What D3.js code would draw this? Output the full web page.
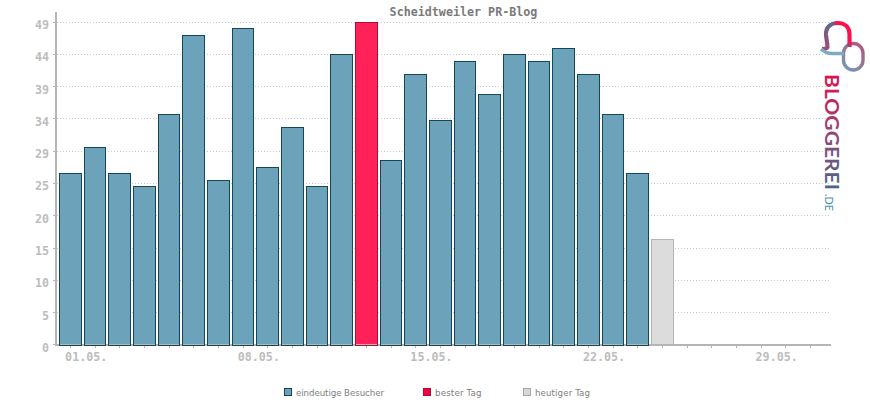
<!DOCTYPE html>
<style>
  html, body { margin: 0; padding: 0; background: #fff; }
  svg { display: block; }
</style>
<svg width="870" height="400"></svg>
<script src="https://d3js.org/d3.v7.min.js"></script>
<script>

var svg = d3.select("svg"),
    mono = "'DejaVu Sans Mono', 'Liberation Mono', monospace";

// eindeutige Besucher per day of May, last entry is today
var values = [26, 30, 26, 24, 35, 47, 25, 48, 27, 33, 24, 44, 49, 28, 41, 34, 43, 38, 44, 43, 45, 41, 35, 26, 16],
    best = 49,
    today = values.length - 1;

var x = d3.scaleLinear().domain([0, 30]).range([70.6, 810.4]),
    y = d3.scaleLinear().domain([0, 49]).range([344.95, 22.04]);

var yTicks = d3.range(11).map(function(i) { return i * 4.9; }),
    xTicks = d3.range(31);

var style = {
  normal: {fill: "#6ca2ba", stroke: "#14475a"},
  best: {fill: "#ff2158", stroke: "#a90f3b"},
  today: {fill: "#dcdcdc", stroke: "#b5b5b5"}
};

function barStyle(d, i) {
  if (i == today) return style.today;
  if (d == best) return style.best;
  return style.normal;
}

// the original is a pixel image, so snap bar edges to whole pixels
function barLeft(i) { return Math.round(x(i) - 11.5); }
function barRight(i) { return Math.floor(x(i) + 10.6); }
function barTop(d) { return Math.floor(y(d)); }

// title
svg.append("text")
    .attr("x", 463.5)
    .attr("y", 16)
    .attr("text-anchor", "middle")
    .attr("font-family", mono)
    .attr("font-size", 11.7)
    .attr("font-weight", "bold")
    .attr("fill", "#7a7a7a")
    .text("Scheidtweiler PR-Blog");

// grid
svg.append("g")
    .attr("stroke", "#c8c8c8")
    .attr("stroke-dasharray", "1,2")
  .selectAll("line")
  .data(yTicks.slice(1))
  .enter().append("line")
    .attr("x1", 57)
    .attr("x2", 830)
    .attr("y1", function(d) { return Math.floor(y(d)) + 0.5; })
    .attr("y2", function(d) { return Math.floor(y(d)) + 0.5; });

// bar fills, the axis runs over them and the outline over the axis
svg.append("g").selectAll("rect")
  .data(values)
  .enter().append("rect")
    .attr("x", function(d, i) { return barLeft(i) + 0.5; })
    .attr("y", function(d) { return barTop(d) + 0.5; })
    .attr("width", function(d, i) { return barRight(i) - barLeft(i); })
    .attr("height", function(d) { return 345 - barTop(d); })
    .attr("fill", function(d, i) { return barStyle(d, i).fill; });

// axes
var yAxis = svg.append("g")
    .attr("transform", "translate(56,0)")
    .call(d3.axisLeft(y).tickValues(yTicks).tickSize(3).tickPadding(4).offset(0)
      .tickFormat(function(d) { return Math.round(d); }));

var xAxis = svg.append("g")
    .attr("transform", "translate(0,345)")
    .call(d3.axisBottom(x).tickValues(xTicks).tickSize(3).tickPadding(5).offset(0)
      .tickFormat(function(d) { return d % 7 == 0 ? d3.format("02")(d + 1) + ".05." : ""; }));

[yAxis, xAxis].forEach(function(a) {
  a.selectAll(".domain").remove();
  a.selectAll("line")
      .attr("stroke", "#b5b5b5")
      .attr("shape-rendering", "crispEdges");
  a.selectAll("text")
      .attr("font-family", mono)
      .attr("font-size", 11.7)
      .attr("font-weight", "bold")
      .attr("fill", "#bdbdbd");
});

yAxis.selectAll("text").attr("dy", 7).attr("y", 0);
xAxis.selectAll("text")
    .attr("text-anchor", "start")
    .attr("x", -5.5)
    .attr("y", 15.5)
    .attr("dy", 0);

svg.append("line")
    .attr("x1", 56).attr("x2", 56)
    .attr("y1", 12).attr("y2", 346)
    .attr("stroke", "#b5b5b5").attr("stroke-width", 2);

svg.append("line")
    .attr("x1", 55).attr("x2", 831)
    .attr("y1", 345).attr("y2", 345)
    .attr("stroke", "#b5b5b5").attr("stroke-width", 2);

// bar outlines
svg.append("g").selectAll("rect")
  .data(values)
  .enter().append("rect")
    .attr("x", function(d, i) { return barLeft(i) + 0.5; })
    .attr("y", function(d) { return barTop(d) + 0.5; })
    .attr("width", function(d, i) { return barRight(i) - barLeft(i); })
    .attr("height", function(d) { return 345 - barTop(d); })
    .attr("fill", "none")
    .attr("stroke", function(d, i) { return barStyle(d, i).stroke; });

// legend
var legend = svg.append("g").selectAll("g")
  .data([
    {x: 284, width: 88, label: "eindeutige Besucher", fill: "#6ca2ba", stroke: "#14475a"},
    {x: 423, width: 46.6, label: "bester Tag", fill: "#f5003c", stroke: "#a90f3b"},
    {x: 523, width: 55, label: "heutiger Tag", fill: "#d6d6d6", stroke: "#a8a8a8"}
  ])
  .enter().append("g")
    .attr("transform", function(d) { return "translate(" + d.x + ",388)"; });

legend.append("rect")
    .attr("x", 0.5).attr("y", 0.5)
    .attr("width", 7).attr("height", 7)
    .attr("fill", function(d) { return d.fill; })
    .attr("stroke", function(d) { return d.stroke; });

legend.append("text")
    .attr("x", 12)
    .attr("y", 7.5)
    .attr("font-family", "'DejaVu Sans', sans-serif")
    .attr("font-size", 8.7)
    .attr("fill", "#808080")
    .attr("textLength", function(d) { return d.width; })
    .text(function(d) { return d.label; });

// bloggerei logo
var defs = svg.append("defs");

var ringGrad = defs.append("linearGradient")
    .attr("id", "ring").attr("gradientUnits", "userSpaceOnUse")
    .attr("x1", 842).attr("y1", 70).attr("x2", 864).attr("y2", 45);
ringGrad.append("stop").attr("offset", 0).attr("stop-color", "#6ca2ba");
ringGrad.append("stop").attr("offset", 1).attr("stop-color", "#b8507a");

var bubbleGrad = defs.append("linearGradient")
    .attr("id", "bubble").attr("gradientUnits", "userSpaceOnUse")
    .attr("x1", 825).attr("y1", 45).attr("x2", 851).attr("y2", 28);
bubbleGrad.append("stop").attr("offset", 0).attr("stop-color", "#a04a78");
bubbleGrad.append("stop").attr("offset", 0.55).attr("stop-color", "#4f6f90");
bubbleGrad.append("stop").attr("offset", 0.72).attr("stop-color", "#ff0f50");
bubbleGrad.append("stop").attr("offset", 1).attr("stop-color", "#ff0f50");

// runs along the rotated text, so x here is y on the page
var textGrad = defs.append("linearGradient")
    .attr("id", "brand").attr("gradientUnits", "userSpaceOnUse")
    .attr("x1", 0).attr("y1", 0).attr("x2", 116).attr("y2", 0);
textGrad.append("stop").attr("offset", 0).attr("stop-color", "#e0104c");
textGrad.append("stop").attr("offset", 0.55).attr("stop-color", "#8f4a78");
textGrad.append("stop").attr("offset", 1).attr("stop-color", "#45658c");

svg.append("rect")
    .attr("x", 843.5).attr("y", 43.5)
    .attr("width", 19.5).attr("height", 26.5)
    .attr("rx", 9.7)
    .attr("fill", "none")
    .attr("stroke", "url(#ring)")
    .attr("stroke-width", 3.4);

svg.append("path")
    .attr("d", "M827.5 46 Q828 49 822 49 M827.5 46 L826 35 C825.5 27 831 23 837.5 23 C844.5 23 849.5 27 849.5 34 V47")
    .attr("fill", "none")
    .attr("stroke", "url(#bubble)")
    .attr("stroke-width", 4.2);

svg.append("path")
    .attr("d", "M821 49 Q826 53.5 832 53.5 H844")
    .attr("fill", "none")
    .attr("stroke", "#7fabc0")
    .attr("stroke-width", 3.4);

svg.append("text")
    .attr("transform", "translate(825,74) rotate(90)")
    .attr("font-family", "Lato, sans-serif")
    .attr("font-size", 19.5)
    .attr("font-weight", "bold")
    .attr("fill", "url(#brand)")
    .attr("textLength", 116)
    .attr("lengthAdjust", "spacingAndGlyphs")
    .text("BLOGGEREI");

svg.append("text")
    .attr("transform", "translate(825,194) rotate(90)")
    .attr("font-family", "Lato, sans-serif")
    .attr("font-size", 11)
    .attr("fill", "#4f8fae")
    .attr("textLength", 17)
    .attr("lengthAdjust", "spacingAndGlyphs")
    .text(".DE");

</script>
